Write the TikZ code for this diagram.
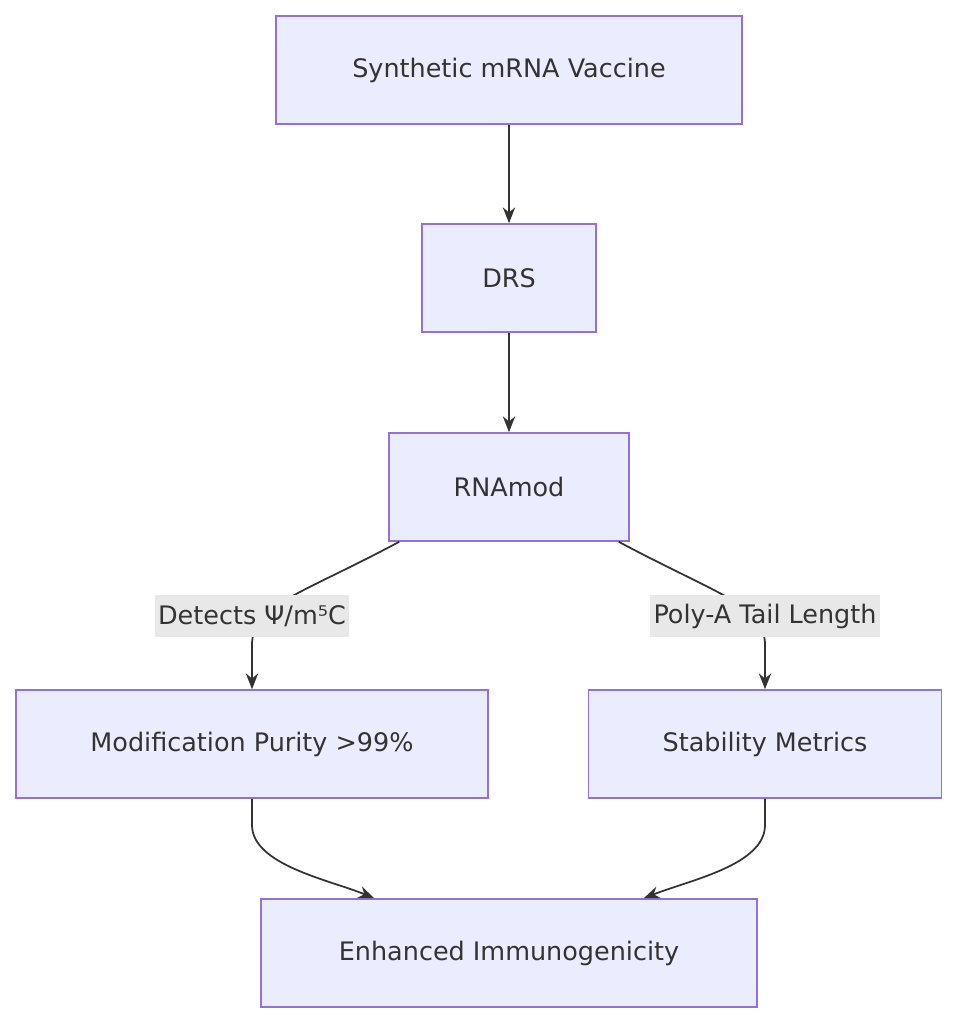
\documentclass[tikz,border=0pt]{standalone}
\usepackage{fontspec}
\setmainfont{DejaVu Sans}
\usetikzlibrary{arrows.meta}
\definecolor{boxfill}{HTML}{ECECFF}
\definecolor{boxline}{HTML}{9370DB}
\definecolor{txt}{HTML}{333333}
\definecolor{lblbg}{HTML}{E8E8E8}
\tikzset{
  box/.style={draw=boxline, fill=boxfill, line width=0.9pt, text=txt,
    minimum height=2.16cm, font=\fontsize{14.5}{17}\selectfont},
  lbl/.style={fill=lblbg, text=txt, inner sep=2pt, minimum height=0.84cm,
    font=\fontsize{14.5}{17}\selectfont},
  arr/.style={draw=txt, line width=1pt, -{Stealth[length=9pt,width=7pt]}}
}
\begin{document}
\begin{tikzpicture}[x=0.02cm,y=-0.02cm]
  \useasboundingbox (0,0) rectangle (958,1024);
  \node[box, minimum width=9.32cm] (vac) at (509,70) {Synthetic mRNA Vaccine};
  \node[box, minimum width=3.48cm] (drs) at (509,278) {DRS};
  \node[box, minimum width=4.8cm] (rna) at (509,487) {RNAmod};
  \node[box, minimum width=9.44cm] (mod) at (252,744) {Modification Purity >99\%};
  \node[box, minimum width=7.06cm] (stab) at (765,744) {Stability Metrics};
  \node[box, minimum width=9.92cm] (enh) at (509,953) {Enhanced Immunogenicity};

  \draw[arr] (vac) -- (drs);
  \draw[arr] (drs) -- (rna);
  % curved links through the labels
  \draw[arr] ([xshift=0.22cm]rna.south west) .. controls (300,595) and (252,605) .. (252,645) -- (mod.north);
  \draw[arr] ([xshift=-0.22cm]rna.south east) .. controls (718,595) and (765,605) .. (765,645) -- (stab.north);
  \draw[arr] (mod.south) -- (252,825) .. controls (252,865) and (330,880) .. ([xshift=2.28cm]enh.north west);
  \draw[arr] (stab.south) -- (765,825) .. controls (765,865) and (690,880) .. ([xshift=-2.28cm]enh.north east);

  \node[lbl] (l1) at (252,616) {Detects Ψ/m⁵C};
  \node[lbl] (l2) at (765,616) {Poly-A Tail Length};
\end{tikzpicture}
\end{document}
